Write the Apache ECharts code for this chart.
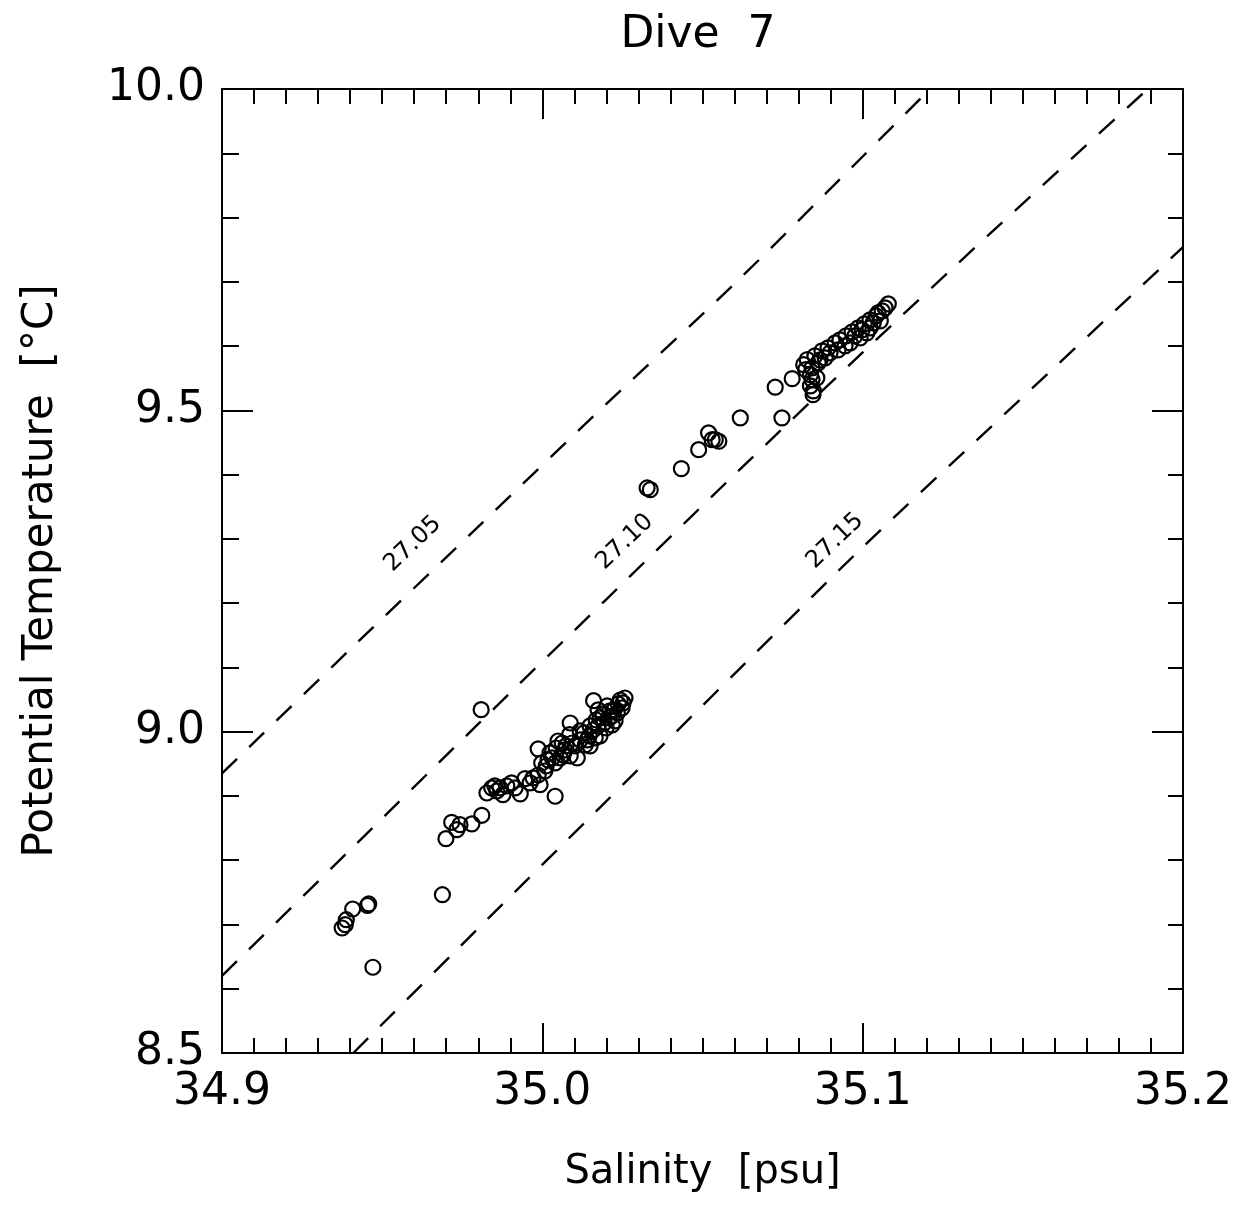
<!DOCTYPE html>
<html>
<head>
<meta charset="utf-8">
<script src="https://cdn.jsdelivr.net/npm/echarts@6/dist/echarts.min.js"></script>
<style>
html,body{margin:0;padding:0;background:#fff;}
#chart{width:1238px;height:1205px;}
</style>
</head>
<body>
<div id="chart"></div>
<script>
// ---- data ----
const titleText = 'Dive  7';
const xName = 'Salinity  [psu]';
const yName = 'Potential Temperature  [°C]';
const salinityRange = [34.9, 35.2];
const tempRange = [8.5, 10.0];

// observed points [salinity, potential temperature]
const lowerPoints = [
  [34.9375,8.6945],[34.9385,8.6997],[34.9388,8.7074],[34.9408,8.7241],[34.9458,8.7319],[34.9454,8.7295],
  [34.9471,8.6334],[34.9688,8.7463],[34.9699,8.8335],[34.9717,8.8590],[34.9733,8.8475],[34.9743,8.8553],
  [34.9780,8.8564],[34.9811,8.8699],[34.9809,9.0342],[34.9827,8.9046],[34.9842,8.9124],[34.9852,8.9155],
  [34.9858,8.9077],[34.9868,8.9124],[34.9877,8.9020],[34.9889,8.9155],[34.9904,8.9202],[34.9931,8.9031],
  [34.9946,8.9269],[34.9971,8.9280],[34.9987,8.9326],[34.9993,8.9175],[35.0008,8.9388],[34.9998,8.9513],
  [34.9987,8.9731],[35.0040,8.8995],[35.0049,8.9855],[35.0024,8.9669],[35.0056,8.9591],[35.0071,8.9716],
  [35.0087,8.9622],[35.0102,8.9778],[35.0109,8.9591],[35.0040,8.9513],[35.0018,8.9560],[35.0085,8.9953],
  [35.0087,9.0135],[35.0118,9.0011],[35.0140,8.9871],[35.0134,8.9793],[35.0149,8.9778],[35.0159,9.0026],
  [35.0165,8.9902],[35.0180,8.9933],[35.0160,9.0482],[35.0202,9.0400],[35.0211,9.0322],[35.0218,9.0244],
  [35.0234,9.0291],[35.0227,9.0167],[35.0243,9.0493],[35.0252,9.0447],[35.0249,9.0369],[35.0193,9.0135],
  [35.0180,9.0213],[35.0218,9.0104],[35.0199,9.0058],[35.0174,9.0089],[35.0062,8.9824],[34.9962,8.9202],
  [34.9915,8.9124],[35.0043,8.9746],[35.0065,8.9637],[35.0093,8.9824],[35.0118,8.9871],[35.0130,8.9980],
  [35.0149,9.0089],[35.0168,9.0182],[35.0190,9.0276],[35.0208,9.0213],[35.0224,9.0338],[35.0237,9.0431],
  [35.0258,9.0524],[35.0031,8.9591],[35.0074,8.9778],[35.0146,8.9933],[35.0012,8.9466],[35.0174,9.0338]
];
const upperPoints = [
  [35.0327,9.3792],[35.0337,9.3766],[35.0434,9.4093],[35.0488,9.4388],[35.0519,9.4648],[35.0530,9.4544],
  [35.0540,9.4544],[35.0551,9.4519],[35.0618,9.4882],[35.0748,9.4882],[35.0727,9.5360],[35.0780,9.5493],
  [35.0837,9.5380],[35.0846,9.5302],[35.0845,9.5244],[35.0842,9.5478],[35.0857,9.5505],[35.0837,9.5556],
  [35.0822,9.5633],[35.0816,9.5711],[35.0827,9.5789],[35.0851,9.5847],[35.0873,9.5925],[35.0892,9.5971],
  [35.0914,9.6049],[35.0929,9.6096],[35.0948,9.6158],[35.0967,9.6220],[35.0986,9.6282],[35.1005,9.6345],
  [35.1023,9.6407],[35.1042,9.6469],[35.1061,9.6547],[35.1080,9.6656],[35.1070,9.6594],[35.1048,9.6516],
  [35.0992,9.6127],[35.1013,9.6205],[35.1023,9.6282],[35.1033,9.6360],[35.1055,9.6391],[35.0961,9.6049],
  [35.0923,9.5940],[35.0883,9.5816],[35.0861,9.5738],[35.0842,9.5660],[35.0898,9.5894],[35.0945,9.6003],
  [35.0976,9.6158],[35.0998,9.6251],[35.0867,9.5785]
];

// isopycnals (sigma-theta), points
const isoNames = ['27.05', '27.10', '27.15'];
const iso2705 = [[34.9,8.935],[34.94,9.128],[34.98,9.319],[35.02,9.510],[35.06,9.697],[35.10,9.895],[35.121,10.0]];
const iso2710 = [[34.9,8.620],[34.94,8.816],[34.98,9.012],[35.02,9.206],[35.06,9.400],[35.10,9.590],[35.14,9.776],[35.189,10.0]];
const iso2715 = [[34.941,8.5],[34.98,8.694],[35.02,8.892],[35.06,9.090],[35.10,9.287],[35.14,9.474],[35.2,9.754]];
const isoLabelPos = [[34.9596,9.292],[35.0258,9.2952],[35.0914,9.2967]];

// ---- chart ----
const FONT = 'DejaVu Sans';
const black = '#000';
const chart = echarts.init(document.getElementById('chart'), null, {renderer: 'canvas'});

function axisCommon(isX, showLabels, major, minor) {
  return {
    type: 'value',
    min: isX ? salinityRange[0] : tempRange[0],
    max: isX ? salinityRange[1] : tempRange[1],
    interval: isX ? 0.1 : 0.5,
    axisLine: {show: true, lineStyle: {color: black, width: 2}},
    axisTick: {show: true, inside: true, length: major, lineStyle: {color: black, width: 2}},
    minorTick: {show: true, splitNumber: isX ? 10 : 5, length: minor, lineStyle: {color: black, width: 2}},
    splitLine: {show: false},
    minorSplitLine: {show: false},
    axisLabel: showLabels ? {
      show: true, color: black, fontFamily: FONT, fontSize: 44,
      margin: isX ? 18 : 17,
      formatter: v => v.toFixed(1)
    } : {show: false}
  };
}

const isoSeries = [iso2705, iso2710, iso2715].map((d, i) => ({
  name: 'σθ ' + isoNames[i],
  type: 'line',
  data: d,
  symbol: 'none',
  smooth: 0.3,
  silent: true,
  lineStyle: {color: black, width: 2.4, type: [21, 17], opacity: 1},
  z: 2
}));

const option = {
  animation: false,
  backgroundColor: '#fff',
  grid: {left: 222, right: 55, top: 89, bottom: 152, containLabel: false},
  graphic: [{
    type: 'text',
    style: {text: titleText, x: 698, y: 36, fontSize: 44, fontFamily: FONT, fill: black, align: 'center', verticalAlign: 'middle'}
  }],
  xAxis: [
    Object.assign(axisCommon(true, true, 30, 15), {
      position: 'bottom',
      name: xName, nameLocation: 'middle', nameGap: 100,
      nameTextStyle: {fontSize: 40, fontFamily: FONT, color: black}
    }),
    Object.assign(axisCommon(true, false, 30, 15), {position: 'top'})
  ],
  yAxis: [
    Object.assign(axisCommon(false, true, 31, 17), {
      position: 'left',
      name: yName, nameLocation: 'middle', nameGap: 160,
      nameTextStyle: {fontSize: 42, fontFamily: FONT, color: black}
    }),
    Object.assign(axisCommon(false, false, 31, 15), {position: 'right'})
  ],
  series: [
    ...isoSeries,
    {
      name: 'isopycnal labels',
      type: 'scatter',
      data: isoLabelPos.map((p, i) => ({value: p, name: isoNames[i]})),
      symbolSize: 1,
      itemStyle: {color: 'rgba(0,0,0,0)', opacity: 1},
      silent: true,
      label: {show: true, position: 'inside', formatter: p => p.name, rotate: 44,
        fontSize: 24, fontFamily: FONT, color: black, opacity: 1},
      z: 3
    },
    {
      name: 'Dive 7',
      type: 'scatter',
      data: lowerPoints.concat(upperPoints),
      symbol: 'circle',
      symbolSize: 15,
      silent: true,
      itemStyle: {color: 'rgba(0,0,0,0)', borderColor: black, borderWidth: 2.2, opacity: 1},
      z: 4
    }
  ]
};
chart.setOption(option);
</script>
</body>
</html>
